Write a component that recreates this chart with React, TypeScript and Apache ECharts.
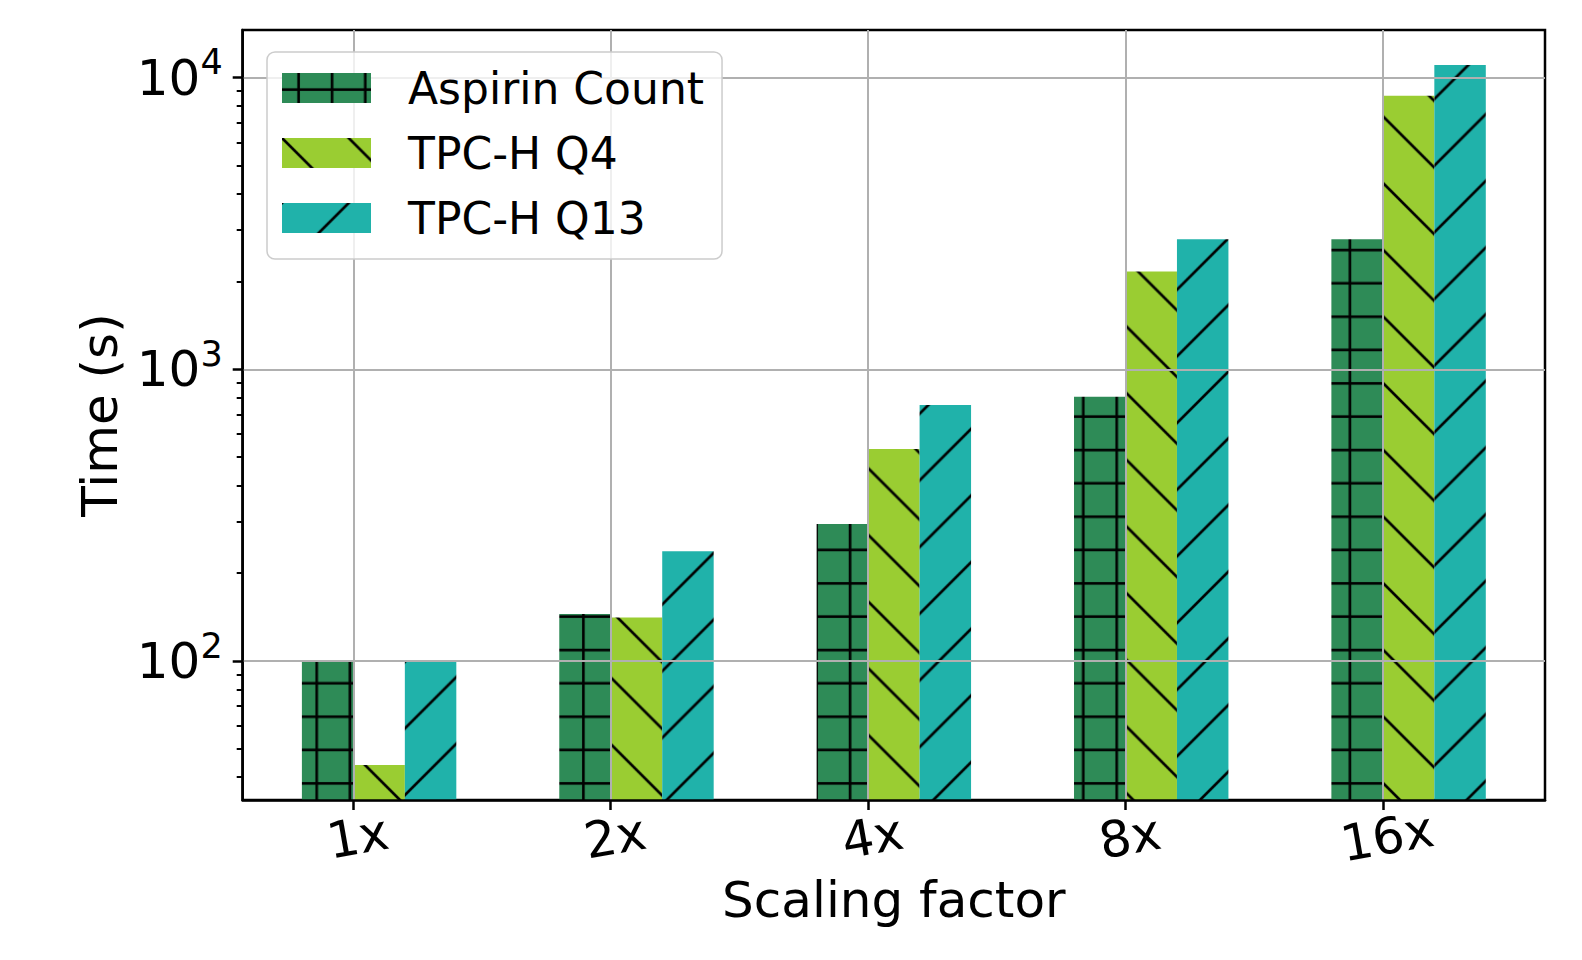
import React, { useEffect, useRef } from 'react';
import * as echarts from 'echarts';

const FONT = '"DejaVu Sans", sans-serif';

const CATEGORIES = ['1x', '2x', '4x', '8x', '16x'];
const SERIES_NAMES = ['Aspirin Count', 'TPC-H Q4', 'TPC-H Q13'];
const ASPIRIN = [100, 145, 295, 806, 2794];
const Q4 = [44, 141, 533, 2167, 8675];
const Q13 = [100, 238, 755, 2794, 11055];
const CATEGORY_INDEX = [0, 1, 2, 3, 4];
const Y_MAJOR_TICKS = [100, 1000, 10000];
const Y_MINOR_TICKS = [
  40, 50, 60, 70, 80, 90,
  200, 300, 400, 500, 600, 700, 800, 900,
  2000, 3000, 4000, 5000, 6000, 7000, 8000, 9000,
];
const Y_MIN = 33.38;
const Y_MAX = 14576;
const X_MIN = -0.43;
const X_MAX = 4.63;
const GROUP_SHIFT = 0.1; // bar groups span [i-0.2, i+0.4] around tick i

function makeHatch(kind: 'grid' | 'back' | 'fwd', bg: string) {
  const S = 200;
  const c = document.createElement('canvas');
  c.width = S;
  c.height = S;
  const ctx = c.getContext('2d')!;
  ctx.fillStyle = bg;
  ctx.fillRect(0, 0, S, S);
  ctx.strokeStyle = '#000';
  ctx.lineWidth = 8;
  ctx.beginPath();
  if (kind === 'grid') {
    for (const p of [50, 150]) {
      ctx.moveTo(p, 0);
      ctx.lineTo(p, S);
      ctx.moveTo(0, p);
      ctx.lineTo(S, p);
    }
  } else if (kind === 'back') {
    for (let k = -1; k <= 1; k++) {
      ctx.moveTo(k * S - 10, -10);
      ctx.lineTo(k * S + S + 10, S + 10);
    }
  } else {
    for (let k = -1; k <= 1; k++) {
      ctx.moveTo(k * S + S + 10, -10);
      ctx.lineTo(k * S - 10, S + 10);
    }
  }
  ctx.stroke();
  return {
    image: c,
    repeat: 'repeat',
    imageWidth: S,
    imageHeight: S,
    scaleX: 1 / 3,
    scaleY: 1 / 3,
  };
}

export default function App() {
  const ref = useRef<HTMLDivElement>(null);

  useEffect(() => {
    if (!ref.current) return;
    const chart = echarts.init(ref.current, undefined, { renderer: 'svg' });

    const patterns = [
      makeHatch('grid', '#2e8b57'),
      makeHatch('back', '#9acd32'),
      makeHatch('fwd', '#20b2aa'),
    ];
    const values = [ASPIRIN, Q4, Q13];

    const bars = SERIES_NAMES.map((name, s) => ({
      type: 'bar',
      name,
      xAxisIndex: 1,
      yAxisIndex: 0,
      data: values[s].map((v, i) => [CATEGORY_INDEX[i], v]),
      barWidth: '20%',
      barGap: '0%',
      itemStyle: { color: patterns[s], borderWidth: 0 },
      emphasis: { disabled: true },
      z: 2,
    }));

    const axisLineStyle = { color: '#000', width: 2.5 };
    const gridLineStyle = { color: '#b0b0b0', width: 2 };

    chart.setOption({
      animation: false,
      backgroundColor: '#ffffff',
      textStyle: { fontFamily: FONT },
      grid: {
        left: 242.7,
        top: 30,
        right: 37,
        bottom: 160,
        show: true,
        borderColor: '#000',
        borderWidth: 2.5,
        backgroundColor: 'transparent',
        containLabel: false,
        outerBoundsMode: 'none',
      },
      legend: {
        data: SERIES_NAMES,
        orient: 'vertical',
        left: 267,
        top: 52,
        icon: 'rect',
        itemWidth: 89,
        itemHeight: 30,
        itemGap: 21,
        padding: [14, 18, 19, 15],
        backgroundColor: 'rgba(255,255,255,0.8)',
        borderColor: '#cccccc',
        borderWidth: 1.5,
        borderRadius: 8,
        selectedMode: false,
        z: 10,
        textStyle: {
          fontSize: 44,
          fontFamily: FONT,
          color: '#000',
          padding: [0, 0, 0, 32],
        },
      },
      xAxis: [
        {
          type: 'value',
          min: X_MIN,
          max: X_MAX,
          position: 'bottom',
          z: 5,
          name: 'Scaling factor',
          nameLocation: 'middle',
          nameGap: 75,
          nameTextStyle: { fontSize: 50, fontFamily: FONT, color: '#000' },
          axisLine: { show: true, onZero: false, lineStyle: axisLineStyle },
          axisTick: {
            show: true,
            customValues: CATEGORY_INDEX,
            length: 10,
            lineStyle: axisLineStyle,
          },
          axisLabel: {
            show: true,
            customValues: CATEGORY_INDEX,
            rotate: 10,
            align: 'center',
            verticalAlign: 'top',
            margin: 12,
            fontSize: 50,
            fontFamily: FONT,
            color: '#000',
            formatter: (v: number) => {
              const i = Math.round(v);
              return Math.abs(v - i) < 1e-6 && CATEGORIES[i] ? CATEGORIES[i] : '';
            },
          },
          splitLine: {
            show: true,
            lineStyle: gridLineStyle,
          },
        },
        {
          type: 'value',
          min: X_MIN - GROUP_SHIFT,
          max: X_MAX - GROUP_SHIFT,
          show: false,
        },
      ],
      yAxis: [
        {
          type: 'log',
          logBase: 10,
          min: Y_MIN,
          max: Y_MAX,
          position: 'left',
          z: 5,
          name: 'Time (s)',
          nameLocation: 'middle',
          nameGap: 118,
          nameTextStyle: { fontSize: 50, fontFamily: FONT, color: '#000' },
          axisLine: { show: true, onZero: false, lineStyle: axisLineStyle },
          axisTick: {
            show: true,
            customValues: Y_MAJOR_TICKS,
            length: 10,
            lineStyle: axisLineStyle,
          },
          minorTick: { show: false },
          axisLabel: {
            show: true,
            customValues: Y_MAJOR_TICKS,
            margin: 20,
            formatter: (v: number) => {
              const e = Math.log10(v);
              const n = Math.round(e);
              if (Math.abs(e - n) > 1e-6) return '';
              return `{b|10}{s|${n}}`;
            },
            rich: {
              b: {
                fontSize: 50,
                lineHeight: 50,
                fontFamily: FONT,
                color: '#000',
                verticalAlign: 'bottom',
              },
              s: {
                fontSize: 35,
                lineHeight: 35,
                fontFamily: FONT,
                color: '#000',
                verticalAlign: 'bottom',
                padding: [0, 0, 23, 0],
              },
            },
          },
          splitLine: {
            show: true,
            lineStyle: gridLineStyle,
          },
        },
        {
          type: 'log',
          logBase: 10,
          min: Y_MIN,
          max: Y_MAX,
          position: 'left',
          z: 5,
          axisLine: { show: false, onZero: false },
          axisLabel: { show: false },
          splitLine: { show: false },
          axisTick: {
            show: true,
            customValues: Y_MINOR_TICKS,
            length: 6,
            lineStyle: { color: '#000', width: 2 },
          },
        },
      ],
      series: bars,
    });

    return () => chart.dispose();
  }, []);

  return (
    <div
      ref={ref}
      style={{
        position: 'fixed',
        left: 0,
        top: 0,
        width: 1582,
        height: 960,
        background: '#fff',
      }}
    />
  );
}
